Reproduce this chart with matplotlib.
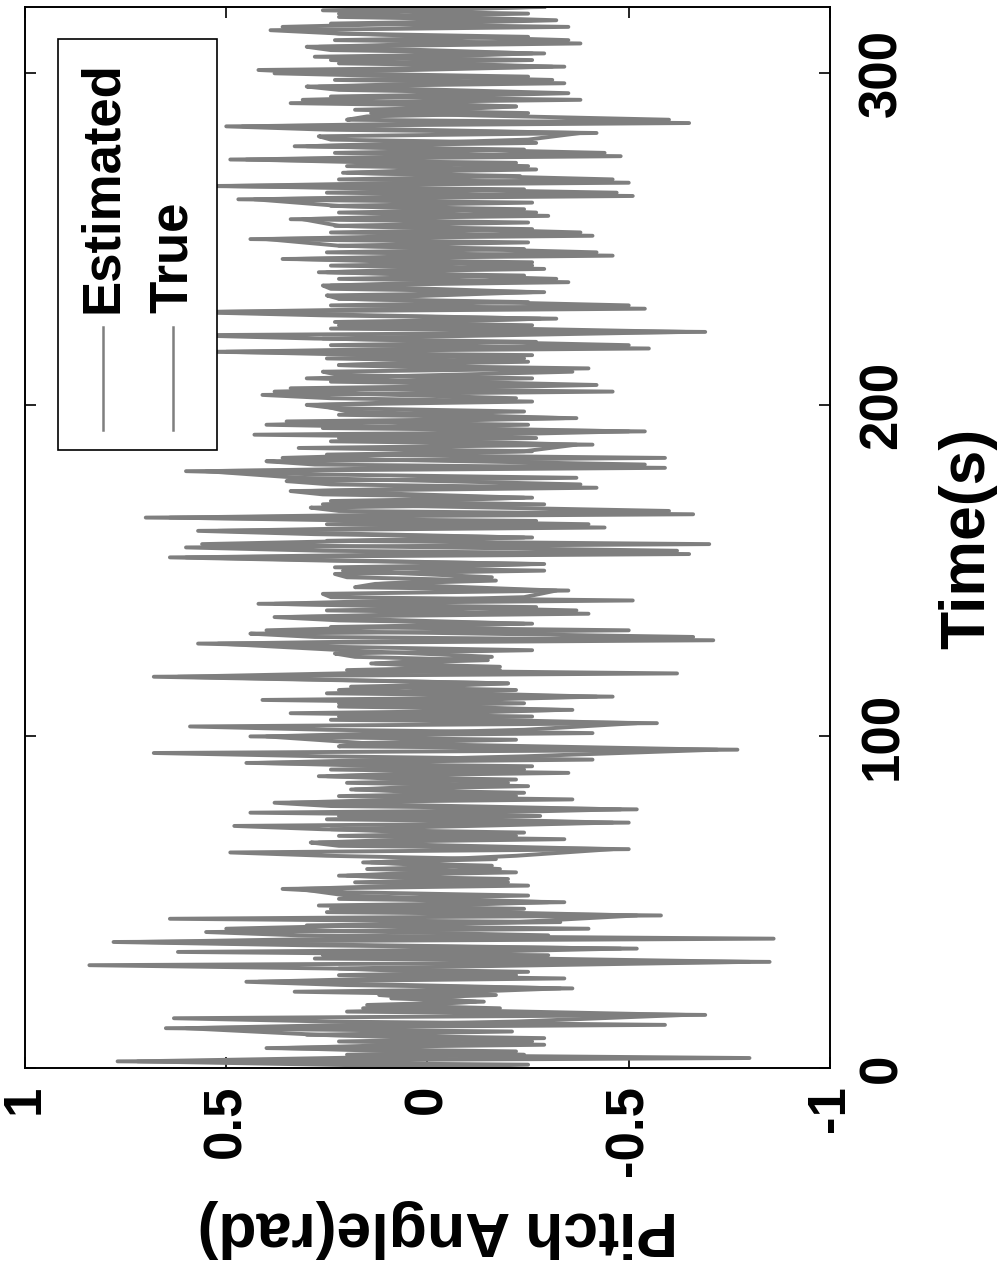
import matplotlib
matplotlib.use('Agg')
import matplotlib.pyplot as plt
import numpy as np
from matplotlib.patches import Rectangle
from matplotlib.lines import Line2D

plt.rcParams['font.family'] = ['Liberation Sans', 'DejaVu Sans']

# time axis (s) and pitch angle (rad)
t_est = np.arange(0, 321, 1)
pitch_est = [
    0.12, -0.25, 0.77, -0.80, 0.20, -0.22, 0.40, -0.29, 0.22, -0.29,
    0.30, -0.21, 0.65, -0.59, 0.24, 0.63, -0.69, 0.20, -0.18, 0.15,
    -0.14, 0.09, -0.17, 0.33, -0.36, 0.20, 0.45, -0.34, 0.22, -0.25,
    0.24, 0.84, -0.85, 0.28, -0.30, 0.62, -0.52, 0.30, 0.78, -0.86,
    0.32, 0.55, -0.40, 0.30, -0.33, 0.64, -0.58, 0.25, -0.24, 0.27,
    -0.34, 0.22, -0.25, 0.20, 0.36, -0.25, 0.18, -0.20, 0.22, -0.22,
    0.15, -0.16, 0.16, -0.17, 0.25, 0.49, -0.50, 0.22, 0.29, -0.34,
    0.22, -0.24, 0.26, 0.48, -0.50, 0.25, -0.28, 0.44, -0.52, 0.24,
    0.38, -0.36, 0.22, -0.24, 0.19, -0.25, 0.20, -0.22, 0.27, -0.35,
    0.24, -0.26, 0.45, -0.41, 0.26, 0.68, -0.77, 0.22, 0.17, -0.22,
    0.44, -0.41, 0.25, 0.59, -0.57, 0.24, -0.26, 0.34, -0.36, 0.22,
    -0.24, 0.41, -0.46, 0.25, -0.22, 0.19, -0.20, 0.24, 0.68, -0.62,
    0.20, -0.18, 0.14, -0.15, 0.18, 0.23, -0.26, 0.22, 0.57, -0.71,
    0.28, 0.44, -0.50, 0.24, -0.26, 0.22, 0.38, -0.40, 0.25, -0.27,
    0.42, -0.51, 0.24, 0.26, -0.35, 0.18, 0.13, -0.17, 0.20, 0.23,
    -0.29, 0.23, -0.29, 0.24, 0.64, -0.65, 0.26, 0.60, -0.70, 0.25,
    -0.26, 0.28, 0.57, -0.44, 0.25, -0.27, 0.70, -0.66, 0.22, 0.29,
    -0.29, 0.24, -0.26, 0.26, 0.34, -0.42, 0.24, 0.35, -0.37, 0.26,
    0.60, -0.59, 0.28, 0.40, -0.59, 0.25, -0.26, 0.32, -0.41, 0.24,
    -0.27, 0.43, -0.54, 0.26, -0.25, 0.35, -0.37, 0.22, -0.24, 0.23,
    0.30, -0.26, 0.24, 0.41, -0.46, 0.34, -0.30, 0.24, -0.26, 0.22,
    0.26, -0.40, 0.22, -0.25, 0.25, -0.26, 0.55, -0.55, 0.24, -0.27,
    0.28, 0.60, -0.69, 0.24, -0.26, 0.23, -0.32, 0.26, 0.60, -0.54,
    0.24, -0.25, 0.22, 0.25, -0.29, 0.24, 0.26, -0.35, 0.22, -0.24,
    0.27, -0.29, 0.24, -0.26, 0.36, -0.46, 0.25, -0.24, 0.22, -0.25,
    0.44, -0.41, 0.24, -0.26, 0.23, -0.25, 0.34, -0.30, 0.22, -0.24,
    0.24, -0.26, 0.47, -0.51, 0.25, -0.24, 0.55, -0.50, 0.22, -0.23,
    0.21, -0.27, 0.20, -0.22, 0.49, -0.48, 0.23, -0.24, 0.33, -0.27,
    0.24, 0.27, -0.42, 0.25, 0.50, -0.65, 0.20, 0.15, -0.25, 0.18,
    -0.22, 0.34, -0.38, 0.24, -0.26, 0.22, 0.30, -0.34, 0.23, -0.25,
    0.24, 0.42, -0.34, 0.22, -0.26, 0.28, -0.29, 0.24, 0.30, -0.38,
    0.23, -0.25, 0.22, 0.39, -0.35, 0.24, -0.26, 0.22, -0.25, 0.26,
    -0.29,
]

t_true = np.arange(0, 321, 2)
pitch_true = [
    -0.20, 0.72, -0.24, 0.36, -0.26, 0.27, 0.60, -0.22, -0.64, 0.16,
    -0.12, 0.12, -0.33, 0.42, -0.22, 0.22, -0.80, 0.26, -0.48, 0.72,
    -0.30, 0.50, -0.22, -0.52, 0.24, -0.30, 0.20, 0.32, -0.20, 0.20,
    -0.18, 0.14, -0.22, -0.46, 0.27, -0.22, 0.24, -0.46, 0.22, -0.48,
    0.34, -0.22, 0.18, -0.20, 0.25, -0.24, 0.42, -0.24, -0.72, 0.16,
    0.40, -0.24, -0.52, 0.22, -0.33, 0.22, -0.42, 0.22, -0.20, 0.62,
    -0.18, 0.13, -0.16, 0.21, 0.52, -0.66, 0.40, -0.24, 0.35, -0.37,
    0.38, -0.24, -0.32, 0.12, -0.16, 0.21, -0.26, 0.60, -0.62, 0.56,
    -0.24, 0.52, -0.40, 0.64, -0.60, 0.26, -0.24, 0.30, -0.38, 0.32,
    0.55, -0.54, 0.36, -0.24, -0.37, 0.22, -0.50, 0.40, -0.34, 0.20,
    0.27, -0.22, 0.38, -0.42, 0.30, -0.36, 0.22, -0.24, 0.50, -0.50,
    0.26, -0.64, 0.22, -0.28, 0.55, -0.50, 0.22, -0.26, 0.24, -0.32,
    0.25, -0.26, 0.33, -0.42, 0.22, 0.40, -0.38, 0.22, 0.31, -0.27,
    0.22, 0.43, -0.47, 0.50, -0.46, 0.20, -0.25, 0.45, -0.44, 0.30,
    -0.25, -0.38, 0.46, -0.60, 0.14, -0.22, 0.31, -0.35, 0.27, -0.31,
    0.38, -0.31, 0.24, -0.26, 0.27, -0.35, 0.22, 0.36, -0.32, 0.22,
    -0.26,
]

labels = ['Estimated', 'True']
x_ticks = [1, 0.5, 0, -0.5, -1]
x_ticklabels = ['1', '0.5', '0', '-0.5', '-1']
y_ticks = [0, 100, 200, 300]

grey = '#7f7f7f'

fig = plt.figure(figsize=(10.08, 12.72), dpi=100)
ax = fig.add_axes([0.0248, 0.1604, 0.7986, 0.8341])

# figure is turned on its side: pitch runs across, time runs up
ax.plot(pitch_est, t_est, color=grey, lw=2.8, zorder=2)
ax.plot(pitch_true, t_true, color=grey, lw=2.8, zorder=2)

ax.set_xlim(1, -1)
ax.set_ylim(0, 320)
ax.set_xticks(x_ticks)
ax.set_xticklabels(x_ticklabels, rotation=90, fontsize=38, fontweight='bold')
ax.set_yticks(y_ticks)
ax.set_yticklabels([str(v) for v in y_ticks], rotation=90, fontsize=38,
                   fontweight='bold', va='center')
ax.tick_params(direction='in', length=8, width=1.2, top=True, right=True,
               labelleft=False, labelright=True)
ax.tick_params(axis='x', pad=12)
ax.tick_params(axis='y', pad=20)
for s in ax.spines.values():
    s.set_linewidth(1.4)

ax.set_xlabel('Pitch Angle(rad)', rotation=180, fontsize=45, fontweight='bold',
              va='center')
ax.xaxis.set_label_coords(0.513, -0.151)
ax.yaxis.set_label_position('right')
ax.set_ylabel('Time(s)', rotation=90, fontsize=45, fontweight='bold',
              va='center', ha='center')
ax.yaxis.set_label_coords(1.1714, 0.4995)

# legend drawn by hand so its text can be turned too
ax.add_patch(Rectangle((0.041, 0.5825), 0.1975, 0.3875, transform=ax.transAxes,
                       facecolor='white', edgecolor='black', lw=1.2, zorder=5))
for xpos, lab in zip([0.097, 0.184], labels):
    ax.add_line(Line2D([xpos, xpos], [0.601, 0.698], transform=ax.transAxes,
                       color=grey, lw=1.8, zorder=6))
    ax.text(xpos, 0.712, lab, transform=ax.transAxes, rotation=90,
            ha='center', va='bottom', fontsize=38, fontweight='bold', zorder=6)

fig.savefig('out.png', dpi=100)
